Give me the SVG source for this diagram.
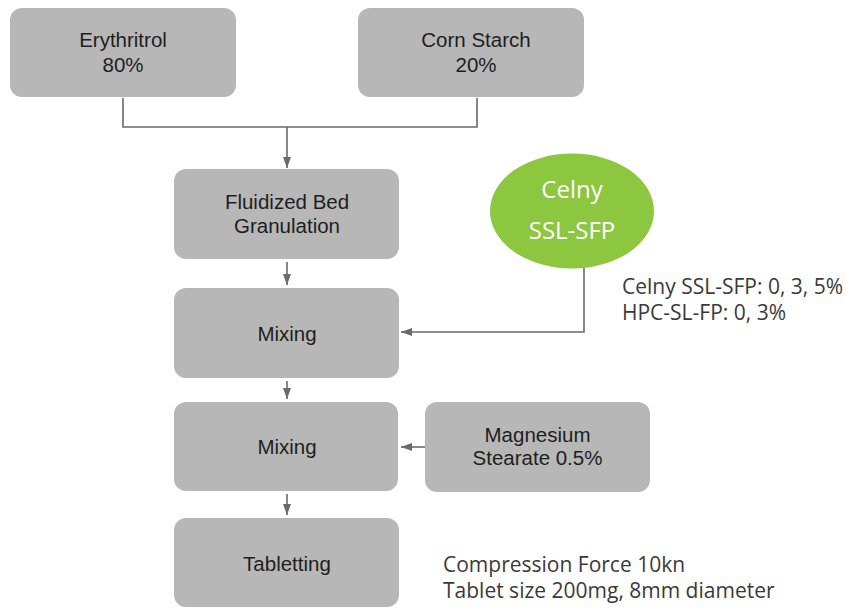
<svg xmlns="http://www.w3.org/2000/svg" width="846" height="609" viewBox="0 0 846 609">
<style>
.box{fill:#b7b7b7;}
.bt{font-family:"Liberation Sans",Arial,sans-serif;font-size:20.5px;fill:#1e1e1e;text-anchor:middle;}
.note{font-family:"Open Sans","Noto Sans",sans-serif;font-size:21px;fill:#3a3a3a;}
.ct{font-family:"Open Sans","Noto Sans",sans-serif;font-size:24px;fill:#ffffff;text-anchor:middle;}
.ln{fill:none;stroke:#6a6a6a;stroke-width:1.6;}
.ar{fill:none;stroke:#6a6a6a;stroke-width:1.6;marker-end:url(#ah);}
</style>
<defs>
<marker id="ah" markerWidth="11" markerHeight="8" refX="11" refY="4" orient="auto" markerUnits="userSpaceOnUse">
<path d="M0,0 L11,4 L0,8 Z" fill="#6a6a6a"/>
</marker>
</defs>
<rect width="846" height="609" fill="#ffffff"/>
<g id="connectors">
<path class="ln" d="M123,98 V127 H477 V98"/>
<path class="ar" d="M287,127 V168"/>
<path class="ar" d="M287,262 V285"/>
<path class="ar" d="M584,268 V332 H401"/>
<path class="ar" d="M287,381 V399"/>
<path class="ar" d="M425,447 H401"/>
<path class="ar" d="M287,494 V515"/>
</g>
<g id="erythritol">
<rect class="box" x="10" y="8" width="226" height="89" rx="12"/>
<text class="bt" x="123" y="47">Erythritrol</text>
<text class="bt" x="123" y="72">80%</text>
</g>
<g id="cornstarch">
<rect class="box" x="358" y="8" width="226" height="89" rx="12"/>
<text class="bt" x="476" y="47">Corn Starch</text>
<text class="bt" x="476" y="72">20%</text>
</g>
<g id="fluidized">
<rect class="box" x="174" y="169" width="225" height="90" rx="12"/>
<text class="bt" x="287" y="209">Fluidized Bed</text>
<text class="bt" x="287" y="233">Granulation</text>
</g>
<g id="celny">
<ellipse cx="572" cy="211" rx="82" ry="57.5" fill="#8dc63f"/>
<text class="ct" x="572" y="198">Celny</text>
<text class="ct" x="572" y="239">SSL-SFP</text>
</g>
<g id="celny-note">
<text class="note" x="622" y="294">Celny SSL-SFP: 0, 3, 5%</text>
<text class="note" x="622" y="320">HPC-SL-FP: 0, 3%</text>
</g>
<g id="mixing1">
<rect class="box" x="174" y="288" width="225" height="90" rx="12"/>
<text class="bt" x="287" y="341">Mixing</text>
</g>
<g id="mixing2">
<rect class="box" x="174" y="402" width="224" height="89" rx="12"/>
<text class="bt" x="287" y="454">Mixing</text>
</g>
<g id="magnesium">
<rect class="box" x="425" y="402" width="225" height="90" rx="12"/>
<text class="bt" x="537.5" y="442">Magnesium</text>
<text class="bt" x="537.5" y="465">Stearate 0.5%</text>
</g>
<g id="tabletting">
<rect class="box" x="174" y="518" width="225" height="89" rx="12"/>
<text class="bt" x="287" y="571">Tabletting</text>
</g>
<g id="tablet-note">
<text class="note" x="443" y="572">Compression Force 10kn</text>
<text class="note" x="443" y="598">Tablet size 200mg, 8mm diameter</text>
</g>
</svg>
